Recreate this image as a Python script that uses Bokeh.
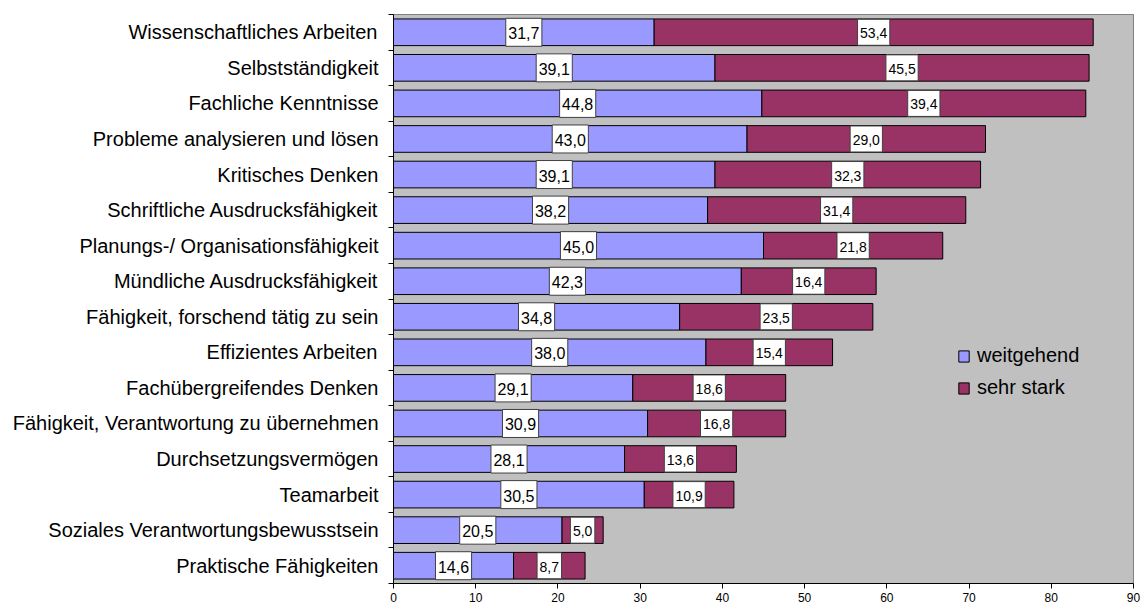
from bokeh.plotting import figure
from bokeh.models import FixedTicker, Range1d, Legend, LegendItem, ColumnDataSource
from bokeh.core.properties import value
from bokeh.embed import file_html
from bokeh.resources import INLINE

categories = [
    "Wissenschaftliches Arbeiten",
    "Selbstständigkeit",
    "Fachliche Kenntnisse",
    "Probleme analysieren und lösen",
    "Kritisches Denken",
    "Schriftliche Ausdrucksfähigkeit",
    "Planungs-/ Organisationsfähigkeit",
    "Mündliche Ausdrucksfähigkeit",
    "Fähigkeit, forschend tätig zu sein",
    "Effizientes Arbeiten",
    "Fachübergreifendes Denken",
    "Fähigkeit, Verantwortung zu übernehmen",
    "Durchsetzungsvermögen",
    "Teamarbeit",
    "Soziales Verantwortungsbewusstsein",
    "Praktische Fähigkeiten",
]
weitgehend = [31.7, 39.1, 44.8, 43.0, 39.1, 38.2, 45.0, 42.3, 34.8, 38.0, 29.1, 30.9, 28.1, 30.5, 20.5, 14.6]
sehr_stark = [53.4, 45.5, 39.4, 29.0, 32.3, 31.4, 21.8, 16.4, 23.5, 15.4, 18.6, 16.8, 13.6, 10.9, 5.0, 8.7]
series_names = ["weitgehend", "sehr stark"]
x_ticks = [0, 10, 20, 30, 40, 50, 60, 70, 80, 90]

FONT = "Liberation Sans"
BLUE = "#9999FF"
MAROON = "#993366"

n = len(categories)
ypos = [n - i for i in range(n)]


def fmt(v):
    return f"{v:.1f}".replace(".", ",")


def text_w(s, px):
    w = 0.0
    for ch in s:
        w += 0.278 if ch == "," else 0.556
    return w * px + 5


wlab = [fmt(v) for v in weitgehend]
slab = [fmt(v) for v in sehr_stark]
src = ColumnDataSource(dict(
    y=ypos,
    w=weitgehend,
    total=[a + b for a, b in zip(weitgehend, sehr_stark)],
    wmid=[a / 2 for a in weitgehend],
    smid=[a + b / 2 for a, b in zip(weitgehend, sehr_stark)],
    wlab=wlab,
    slab=slab,
    wbox=[text_w(s, 16) for s in wlab],
    sbox=[text_w(s, 14) for s in slab],
))

p = figure(
    frame_width=740, frame_height=569,
    x_range=Range1d(0, 90), y_range=Range1d(0.5, n + 0.5),
    output_backend="svg", toolbar_location=None,
    min_border_left=393, min_border_right=7, min_border_top=14, min_border_bottom=0,
    background_fill_color="#C0C0C0", border_fill_color="white",
    outline_line_color="#808080", outline_line_width=1,
)
p.xgrid.visible = False
p.ygrid.visible = False

r1 = p.hbar(y="y", left=0, right="w", height=0.75, fill_color=BLUE,
            line_color="black", line_width=1, source=src)
r2 = p.hbar(y="y", left="w", right="total", height=0.75, fill_color=MAROON,
            line_color="black", line_width=1, source=src)

p.rect(x="wmid", y="y", width="wbox", height=28, width_units="screen",
       height_units="screen", fill_color="white", line_color="#404040",
       line_width=1, source=src)
p.text(x="wmid", y="y", text="wlab", text_font=value(FONT), text_font_size="16px",
       text_align="center", text_baseline="middle", text_color="black",
       y_offset=1, source=src)
p.rect(x="smid", y="y", width="sbox", height=26, width_units="screen",
       height_units="screen", fill_color="white", line_color="#404040",
       line_width=1, source=src)
p.text(x="smid", y="y", text="slab", text_font=value(FONT), text_font_size="14px",
       text_align="center", text_baseline="middle", text_color="black",
       y_offset=1, source=src)

# y axis: labels at category centres, tick marks at boundaries
p.yaxis.ticker = FixedTicker(ticks=ypos, minor_ticks=[k + 0.5 for k in range(n + 1)])
p.yaxis.major_label_overrides = {y: c for y, c in zip(ypos, categories)}
p.yaxis.major_tick_out = 0
p.yaxis.major_tick_in = 0
p.yaxis.minor_tick_out = 5
p.yaxis.minor_tick_in = 0
p.yaxis.minor_tick_line_color = "black"
p.yaxis.axis_line_color = "black"
p.yaxis.major_label_text_font = FONT
p.yaxis.major_label_text_font_size = "20px"
p.yaxis.major_label_text_color = "black"
p.yaxis.major_label_standoff = 10

p.xaxis.ticker = FixedTicker(ticks=x_ticks, minor_ticks=[])
p.xaxis.major_tick_out = 5
p.xaxis.major_tick_in = 0
p.xaxis.major_tick_line_color = "black"
p.xaxis.axis_line_color = "black"
p.xaxis.major_label_text_font = FONT
p.xaxis.major_label_text_font_size = "12px"
p.xaxis.major_label_text_color = "black"
p.xaxis.major_label_standoff = 4

legend = Legend(
    items=[LegendItem(label=series_names[0], renderers=[r1]),
           LegendItem(label=series_names[1], renderers=[r2])],
    location=(564, 184),
    glyph_width=13, glyph_height=14, label_height=14,
    label_standoff=7, spacing=9, padding=0, margin=0,
    label_text_font=FONT, label_text_font_size="20px", label_text_color="black",
    border_line_color=None, background_fill_alpha=0,
)
p.add_layout(legend, "center")

open("out.html", "w").write(file_html(p, INLINE))
